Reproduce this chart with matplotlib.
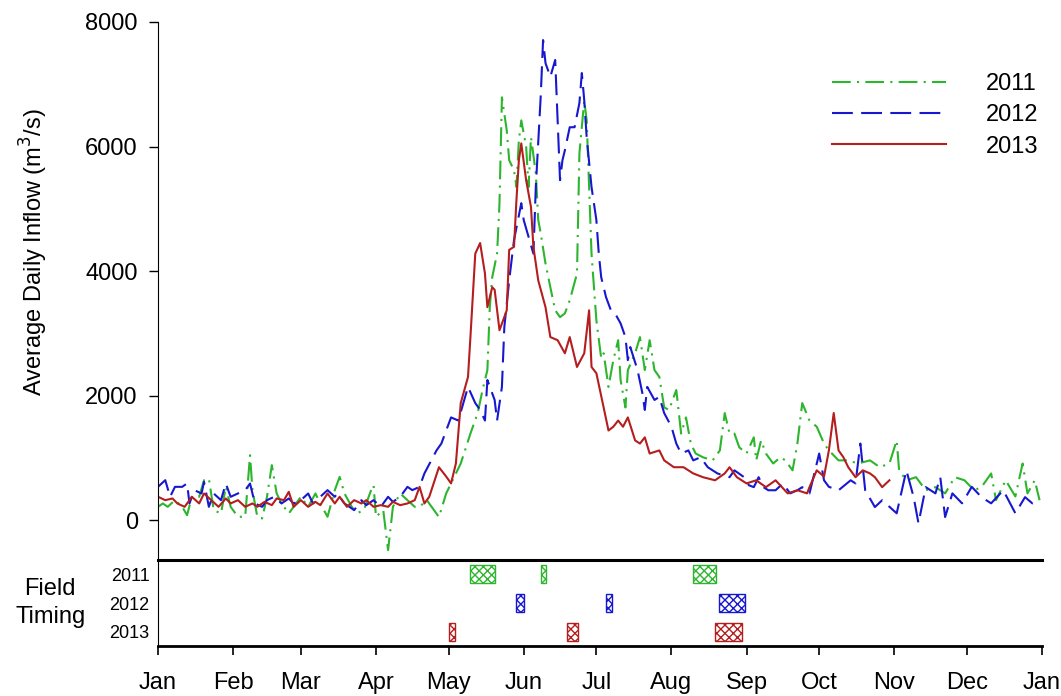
import matplotlib.pyplot as plt

plt.rcParams['font.family'] = ['Liberation Sans', 'DejaVu Sans']

# day of year (0 = Jan 1) and average daily inflow (m3/s)
days_2011 = [0, 2, 4, 7, 10, 12, 14, 17, 19, 21, 23, 26, 28, 30, 33, 36, 38, 39, 41, 43,
             45, 47, 49, 51, 54, 56, 59, 62, 65, 67, 70, 73, 75, 77, 80, 82, 85, 88, 89, 90,
             93, 95, 97, 100, 103, 106, 108, 111, 116, 119, 121, 125, 129, 132, 134, 136, 137, 138, 140, 141,
             142, 144, 145, 147, 148, 149, 150, 152, 153, 154, 156, 157, 158, 160, 162, 164, 166, 168, 170, 173,
             174, 176, 177, 178, 179, 181, 183, 184, 186, 188, 190, 191, 193, 194, 197, 199, 201, 203, 205, 207,
             209, 211, 214, 216, 218, 220, 222, 225, 229, 232, 234, 236, 238, 240, 243, 246, 247, 249, 251, 254,
             257, 259, 262, 264, 266, 269, 272, 275, 277, 281, 285, 289, 294, 298, 302, 305, 306, 309, 313, 317,
             321, 325, 329, 333, 337, 340, 344, 346, 350, 354, 357, 359, 362, 364]
flow_2011 = [214, 268, 214, 321, 214, 80, 375, 375, 642, 668, 161, 107, 535, 214, 54, 54, 1043, 482, 54, 27,
             375, 883, 428, 268, 107, 214, 375, 214, 428, 268, 54, 482, 695, 428, 214, 107, 161, 482, 562, 54,
             161, -481, 214, 428, 321, 214, 214, 321, 50, 430, 590, 910, 1390, 1720, 2090, 2410, 3420, 3900, 4280, 5090,
             6790, 6260, 5780, 5620, 5350, 6100, 6420, 6000, 5350, 6150, 5570, 4820, 4610, 4120, 3740, 3370, 3260, 3320, 3530, 3960,
             5890, 6740, 6420, 5350, 4280, 3210, 2600, 2680, 2140, 2570, 2890, 2250, 1810, 2410, 2680, 2940, 2410, 2890, 2410, 2300,
             1810, 1770, 2090, 1390, 1650, 1230, 1070, 1010, 960, 1120, 1720, 1390, 1390, 1170, 1070, 1330, 960, 1280, 1070, 910,
             1010, 960, 800, 1230, 1880, 1600, 1500, 1230, 1120, 960, 960, 910, 960, 850, 910, 1280, 800, 640, 690, 480,
             530, 430, 690, 640, 480, 530, 750, 320, 640, 380, 910, 430, 640, 320]

days_2012 = [0, 3, 5, 7, 10, 12, 13, 15, 18, 19, 21, 23, 26, 28, 30, 33, 36, 38, 40, 43,
             45, 48, 51, 54, 56, 59, 62, 64, 67, 70, 73, 74, 77, 81, 84, 86, 89, 92, 95, 97,
             100, 103, 105, 108, 110, 115, 117, 121, 124, 128, 131, 133, 135, 136, 139, 140, 142, 143, 145, 147,
             150, 151, 153, 155, 156, 158, 159, 160, 162, 164, 165, 166, 167, 168, 170, 172, 174, 175, 176, 177,
             179, 181, 182, 183, 184, 185, 187, 189, 191, 193, 194, 195, 198, 200, 201, 202, 205, 207, 209, 212,
             214, 216, 219, 221, 224, 227, 231, 236, 238, 242, 244, 246, 248, 250, 252, 255, 258, 261, 264, 266,
             269, 273, 275, 277, 281, 286, 288, 290, 292, 296, 299, 305, 309, 312, 314, 317, 321, 323, 325, 328,
             332, 336, 340, 344, 349, 354, 358, 361, 364]
flow_2012 = [535, 642, 375, 535, 535, 590, 268, 482, 428, 615, 214, 428, 321, 588, 375, 428, 482, 588, 268, 214,
             321, 375, 268, 348, 268, 321, 428, 268, 375, 482, 375, 428, 268, 161, 321, 241, 321, 214, 375, 294,
             375, 535, 482, 535, 750, 1120, 1230, 1650, 1600, 2140, 1880, 1770, 1600, 2250, 1930, 1600, 2140, 3100, 3850, 4500,
             5090, 4820, 4550, 4280, 5350, 6790, 7710, 7340, 7120, 7390, 6420, 5460, 5780, 5940, 6310, 6310, 6700, 7180, 6740, 6150,
             5350, 4820, 4280, 3900, 3740, 3580, 3370, 3300, 3160, 2940, 2570, 2780, 2410, 2040, 1770, 2140, 1930, 1980, 1720, 1500,
             1230, 1070, 1120, 960, 1010, 850, 750, 690, 800, 690, 560, 530, 690, 530, 480, 480, 590, 430, 480, 530,
             430, 1070, 640, 535, 480, 640, 590, 1230, 480, 210, 320, 110, 800, 370, -50, 530, 430, 690, 50, 430,
             270, 535, 370, 270, 480, 110, 370, 270, 320]

days_2013 = [0, 3, 6, 8, 11, 14, 17, 19, 22, 25, 28, 30, 33, 36, 39, 41, 44, 47, 49, 52,
             54, 56, 59, 62, 65, 67, 70, 73, 75, 78, 81, 84, 86, 89, 92, 95, 97, 100, 103, 106,
             108, 110, 112, 116, 119, 121, 123, 125, 128, 129, 131, 133, 135, 136, 138, 139, 141, 144, 145, 147,
             148, 149, 150, 152, 154, 155, 157, 160, 162, 165, 168, 170, 173, 176, 178, 179, 181, 184, 186, 188,
             190, 192, 194, 197, 199, 201, 203, 207, 209, 213, 217, 221, 225, 230, 234, 236, 239, 243, 247, 251,
             255, 260, 264, 268, 269, 272, 275, 277, 279, 281, 283, 285, 288, 291, 294, 296, 299, 302]
flow_2013 = [375, 321, 348, 268, 214, 375, 268, 428, 321, 214, 348, 268, 321, 214, 268, 214, 294, 241, 348, 321,
             455, 214, 321, 214, 294, 241, 428, 268, 375, 214, 321, 268, 321, 214, 241, 214, 294, 241, 268, 321,
             535, 268, 375, 850, 700, 590, 910, 1880, 2300, 2940, 4280, 4450, 3960, 3420, 3740, 3700, 3050, 3370, 4340, 4390,
             5140, 5780, 6050, 5460, 5030, 4390, 3850, 3420, 2940, 2890, 2680, 2940, 2460, 2680, 3370, 2460, 2360, 1810, 1440, 1500,
             1600, 1500, 1650, 1280, 1230, 1330, 1070, 1120, 960, 850, 850, 750, 690, 640, 750, 850, 690, 590, 640, 530,
             640, 430, 480, 430, 530, 800, 700, 1120, 1720, 1120, 1010, 850, 690, 800, 750, 690, 530, 640]

# field sampling windows (start day, length in days)
field_start_2011 = [129, 158, 221]
field_len_2011 = [10, 2, 9.5]
field_start_2012 = [148, 185, 231.5]
field_len_2012 = [3, 2.5, 11]
field_start_2013 = [120, 169, 230]
field_len_2013 = [2.6, 4.5, 11]

years = ['2011', '2012', '2013']
month_days = [0, 31, 59, 90, 120, 151, 181, 212, 243, 273, 304, 334, 365]
month_labels = ['Jan', 'Feb', 'Mar', 'Apr', 'May', 'Jun', 'Jul', 'Aug', 'Sep', 'Oct', 'Nov', 'Dec', 'Jan']

green = '#2db52d'
blue = '#1717d0'
red = '#b41e1e'

fig = plt.figure(figsize=(10.61, 6.96), dpi=100)
ax1 = fig.add_axes([158 / 1061, 1 - 560 / 696, 884 / 1061, 538 / 696])
ax2 = fig.add_axes([158 / 1061, 1 - 646 / 696, 884 / 1061, 86 / 696])

# inflow lines
ax1.plot(days_2011, flow_2011, color=green, lw=1.5, dashes=[9, 3, 1, 3], label='2011')
ax1.plot(days_2012, flow_2012, color=blue, lw=1.5, dashes=[10, 4], label='2012')
ax1.plot(days_2013, flow_2013, color=red, lw=1.5, label='2013')

ax1.set_xlim(0, 365)
ax1.set_ylim(-640, 8000)
ax1.set_yticks([0, 2000, 4000, 6000, 8000])
ax1.set_xticks([])
for s in ['top', 'right', 'bottom']:
    ax1.spines[s].set_visible(False)
ax1.tick_params(axis='y', labelsize=17, length=6.5, width=1, pad=8)
ax1.set_ylabel('Average Daily Inflow (m$^3$/s)', fontsize=17)
ax1.yaxis.set_label_coords(-0.122, 0.572)
ax1.legend(loc='upper right', bbox_to_anchor=(1.02, 0.945), frameon=False, fontsize=17,
           handlelength=4.8, handletextpad=1.7, labelspacing=0.4)

# field timing boxes
starts = [field_start_2011, field_start_2012, field_start_2013]
lens = [field_len_2011, field_len_2012, field_len_2013]
cols = [green, blue, red]
for i in range(3):
    ax2.barh([i + 1] * len(starts[i]), lens[i], left=starts[i], height=0.62,
             facecolor='white', edgecolor=cols[i], hatch='xxxx', lw=1)

ax2.set_xlim(0, 365)
ax2.set_ylim(3.5, 0.5)
ax2.set_yticks([1, 2, 3])
ax2.set_yticklabels(years)
ax2.set_xticks(month_days)
ax2.set_xticklabels(month_labels)
ax2.spines['right'].set_visible(False)
ax2.spines['top'].set_linewidth(2.2)
ax2.spines['bottom'].set_linewidth(2)
ax2.tick_params(axis='y', length=0, labelsize=13, pad=6)
ax2.tick_params(axis='x', length=6.5, width=1.2, labelsize=17, pad=12)
ax2.text(-0.122, 0.5, 'Field\nTiming', transform=ax2.transAxes, ha='center', va='center',
         fontsize=17, linespacing=1.3)

plt.savefig('out.png', dpi=100)
